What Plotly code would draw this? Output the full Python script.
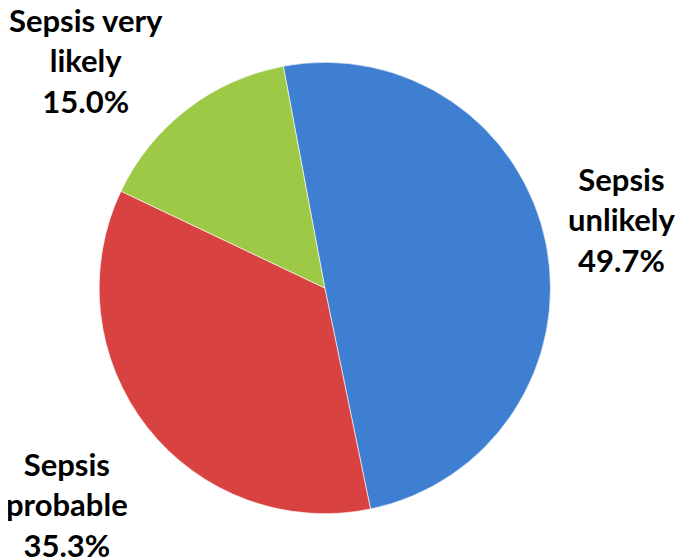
import plotly.graph_objects as go

labels = ["Sepsis<br>unlikely", "Sepsis<br>probable", "Sepsis very<br>likely"]
values = [49.7, 35.3, 15.0]
colors = ["#3f7fd1", "#d84341", "#9dc947"]

# label positions in paper coords (centre of each text block)
label_pos = [(0.896, 0.623), (0.086, 0.114), (0.114, 0.907)]

fig = go.Figure()
fig.add_trace(
    go.Pie(
        labels=labels,
        values=values,
        sort=False,
        direction="clockwise",
        rotation=-10.6,
        textinfo="none",
        hoverinfo="label+percent",
        marker=dict(colors=colors, line=dict(color="rgba(255,255,255,0.6)", width=1)),
        domain=dict(x=[0.133, 0.792], y=[0.097, 0.903]),
        showlegend=False,
    )
)

for lab, val, (x, y) in zip(labels, values, label_pos):
    fig.add_annotation(
        text=f"{lab}<br>{val:.1f}%",
        x=x,
        y=y,
        xref="paper",
        yref="paper",
        xanchor="center",
        yanchor="middle",
        showarrow=False,
        align="center",
        font=dict(family="Lato", size=31, color="black", weight="bold"),
    )

fig.update_layout(
    width=685,
    height=560,
    margin=dict(l=0, r=0, t=0, b=0),
    paper_bgcolor="white",
    plot_bgcolor="white",
)

fig.write_html("out.html")
